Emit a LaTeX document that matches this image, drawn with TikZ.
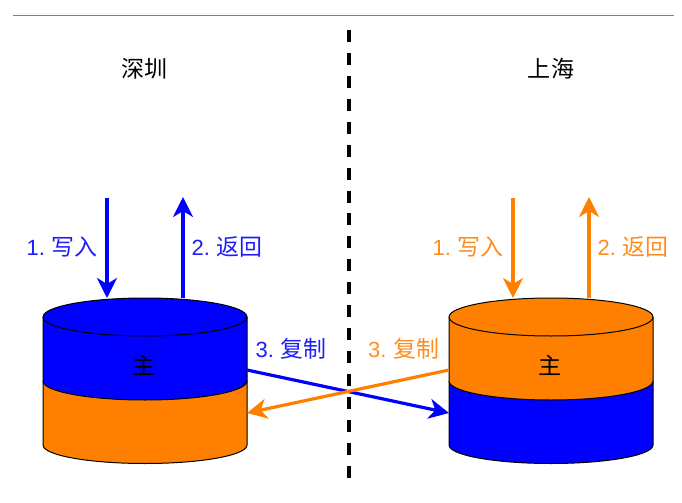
\documentclass[tikz,border=0pt]{standalone}
\usepackage{fontspec}
\usetikzlibrary{arrows.meta}
\setmainfont{Liberation Sans}
\newfontfamily\cjk{Noto Sans CJK SC}
\definecolor{dcblue}{RGB}{0,0,255}
\definecolor{dcorange}{RGB}{255,128,0}
\definecolor{textblue}{RGB}{30,30,245}
\definecolor{textorange}{RGB}{255,140,30}
\newcommand{\zh}[1]{{\cjk\fontsize{17.2}{19}\selectfont #1}}
\tikzset{
  flow/.style={line width=2.4pt,-{Stealth[length=15pt,width=15pt,inset=4.5pt]}},
  steplabel/.style={font=\fontsize{16.5}{18}\selectfont, inner sep=0pt},
  title/.style={font=\cjk\fontsize{17.3}{19}\selectfont, text=black, inner sep=0pt},
  mark label/.style={font=\cjk\fontsize{17.3}{19}\selectfont, text=black, inner sep=0pt},
  body/.style={draw=black,line width=0.75pt},
}
% Two-tier cylinder: centre x, top tier colour, bottom tier colour
\newcommand{\drumstack}[3]{%
  \draw[body,fill=#3] (#1-102,381) -- (#1-102,445) arc[start angle=180,end angle=0,x radius=102,y radius=18.5] -- (#1+102,381) -- cycle;
  \draw[body,fill=#2] (#1-102,317) -- (#1-102,381) arc[start angle=180,end angle=0,x radius=102,y radius=19] -- (#1+102,317) arc[start angle=0,end angle=-180,x radius=102,y radius=19] -- cycle;
  \draw[body] (#1-102,317) arc[start angle=180,end angle=0,x radius=102,y radius=19];
}
\begin{document}
\begin{tikzpicture}[x=0.75pt,y=-0.75pt]
\useasboundingbox (0,0) rectangle (682,503);

% Header rule and site divider
\coordinate (ruleL) at (13,16);
\coordinate (ruleR) at (674,16);
\draw[draw=black!50,line width=0.75pt] (ruleL) -- (ruleR);
\coordinate (divT) at (349,30);
\coordinate (divB) at (349,478);
\draw[line width=2.6pt,dash pattern=on 9pt off 8.2pt] (divT) -- (divB);

% Site titles
\node[title] (sz) at (144.5,69) {深圳};
\node[title] (sh) at (551,69) {上海};

% Storage drums
\drumstack{145}{dcblue}{dcorange}
\drumstack{551}{dcorange}{dcblue}
\node[mark label] (mainL) at (144,365) {主};
\node[mark label] (mainR) at (550,365) {主};

% Anchors on the drums and free arrow ends
\coordinate (wL0) at (107,198); \coordinate (wL1) at (107,298);
\coordinate (rL0) at (183,298); \coordinate (rL1) at (183,197);
\coordinate (wR0) at (513,198); \coordinate (wR1) at (513,298);
\coordinate (rR0) at (589,298); \coordinate (rR1) at (589,197);
\coordinate (edgeLa) at (247,370); \coordinate (edgeRb) at (449,413);
\coordinate (edgeRa) at (449,370); \coordinate (edgeLb) at (247,413);

% Client traffic
\draw[flow,dcblue] (wL0) -- (wL1);
\draw[flow,dcblue] (rL0) -- (rL1);
\draw[flow,dcorange] (wR0) -- (wR1);
\draw[flow,dcorange] (rR0) -- (rR1);

% Cross-site replication
\draw[flow,dcblue] (edgeLa) -- (edgeRb);
\draw[flow,dcorange] (edgeRa) -- (edgeLb);

% Step labels
\node[steplabel,text=textblue] (l1) at (62,247) {1.\hspace{5pt}\zh{写入}};
\node[steplabel,text=textblue] (l2) at (227,247) {2.\hspace{5pt}\zh{返回}};
\node[steplabel,text=textblue] (l3) at (291,349) {3.\hspace{5pt}\zh{复制}};
\node[steplabel,text=textorange] (r1) at (468,247) {1.\hspace{5pt}\zh{写入}};
\node[steplabel,text=textorange] (r2) at (633,247) {2.\hspace{5pt}\zh{返回}};
\node[steplabel,text=textorange] (r3) at (403.5,349) {3.\hspace{5pt}\zh{复制}};
\end{tikzpicture}
\end{document}
